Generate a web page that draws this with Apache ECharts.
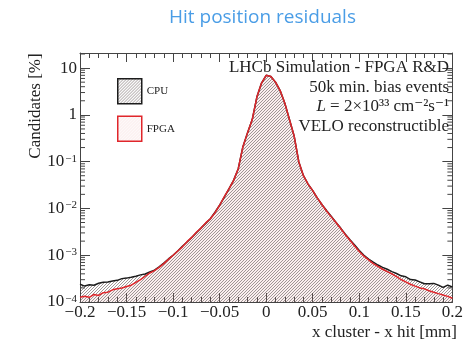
<!DOCTYPE html>
<html>
<head>
<meta charset="utf-8">
<script src="https://cdn.jsdelivr.net/npm/echarts@6/dist/echarts.min.js"></script>
<style>
  html, body { margin: 0; padding: 0; background: #fff; }
  #chart { width: 466px; height: 341px; }
</style>
</head>
<body>
<div id="chart"></div>
<script>
// histogram: bins of 0.005 mm from -0.2 to 0.2, values in %
const xMin = -0.2;
const xMax = 0.2;
const binWidth = 0.005;

const cpu = [
  2.40e-4, 2.19e-4, 2.34e-4, 2.28e-4, 2.51e-4, 2.63e-4, 2.69e-4, 2.82e-4, 2.90e-4, 3.16e-4,
  3.24e-4, 3.39e-4, 3.55e-4, 3.80e-4, 3.98e-4, 4.37e-4, 4.79e-4, 5.62e-4, 6.76e-4, 8.32e-4,
  1.00e-3, 1.23e-3, 1.55e-3, 1.91e-3, 2.40e-3, 3.02e-3, 3.80e-3, 4.79e-3, 6.03e-3, 8.30e-3,
  0.0117, 0.0174, 0.0263, 0.0398, 0.0708, 0.209, 0.417, 0.794, 2.40, 4.79,
  7.00, 6.61, 5.01, 3.31, 1.78, 0.794, 0.355, 0.100, 0.0501, 0.0331,
  0.0240, 0.0166, 0.0120, 8.9e-3, 6.76e-3, 5.01e-3, 3.80e-3, 2.82e-3, 2.14e-3, 1.66e-3,
  1.26e-3, 1.00e-3, 8.30e-4, 7.08e-4, 6.17e-4, 5.50e-4, 5.01e-4, 4.47e-4, 4.07e-4, 3.63e-4,
  3.45e-4, 3.02e-4, 2.95e-4, 2.69e-4, 2.45e-4, 2.45e-4, 2.50e-4, 2.29e-4, 2.05e-4, 2.30e-4,
  2.09e-4
];

const fpga = [
  1.26e-4, 1.32e-4, 1.26e-4, 1.45e-4, 1.38e-4, 1.58e-4, 1.62e-4, 1.82e-4, 1.91e-4, 2.00e-4,
  2.14e-4, 2.29e-4, 2.63e-4, 3.02e-4, 3.55e-4, 4.17e-4, 4.68e-4, 5.50e-4, 6.61e-4, 8.13e-4,
  1.00e-3, 1.23e-3, 1.51e-3, 1.95e-3, 2.40e-3, 3.09e-3, 3.80e-3, 4.90e-3, 6.03e-3, 8.10e-3,
  0.0117, 0.0178, 0.0263, 0.0398, 0.0708, 0.209, 0.417, 0.794, 2.40, 4.79,
  7.00, 6.61, 5.01, 3.31, 1.78, 0.794, 0.355, 0.100, 0.0501, 0.0331,
  0.0240, 0.0166, 0.0120, 8.7e-3, 6.60e-3, 5.01e-3, 3.72e-3, 2.75e-3, 2.09e-3, 1.58e-3,
  1.20e-3, 9.55e-4, 7.94e-4, 6.61e-4, 5.75e-4, 5.01e-4, 4.47e-4, 3.98e-4, 3.47e-4, 3.02e-4,
  2.69e-4, 2.40e-4, 2.19e-4, 2.00e-4, 1.91e-4, 1.74e-4, 1.62e-4, 1.51e-4, 1.41e-4, 1.32e-4,
  1.20e-4
];

const seriesNames = ['CPU', 'FPGA'];
const infoLines = ['LHCb Simulation - FPGA R&D', '50k min. bias events', '{i|L} = 2×10³³ cm⁻²s⁻¹', 'VELO reconstructible'];

const serif = '"Liberation Serif", "DejaVu Serif", serif';
const black = '#1c1c1c';
const red = '#e0262b';
const axisColor = '#444';

function hatch(color, offset) {
  const c = document.createElement('canvas');
  c.width = c.height = 3;
  const g = c.getContext('2d');
  g.strokeStyle = color;
  g.lineWidth = 1;
  for (let a = offset - 3; a <= offset + 3; a += 3) {
    g.beginPath();
    g.moveTo(a, 3);
    g.lineTo(a + 3, 0);
    g.stroke();
  }
  return c;
}
const cpuFill = {image: hatch('rgba(95,80,80,0.6)', 0), repeat: 'repeat'};
const fpgaFill = {image: hatch('rgba(230,150,150,0.3)', 1.5), repeat: 'repeat'};

const toPoints = arr => arr.map((v, i) => [xMin + i * binWidth, v]);

// ROOT style log minor ticks at 2..9 per decade
const logMinor = [];
for (let e = -4; e <= 1; e++) {
  for (let m = 2; m <= 9; m++) {
    const v = m * Math.pow(10, e);
    if (v < 21) logMinor.push([xMin, v]);
  }
}

const tick = {inside: true, length: 9, lineStyle: {color: axisColor}};
const minor = {show: true, splitNumber: 5, length: 5, lineStyle: {color: axisColor}};

const chart = echarts.init(document.getElementById('chart'));
chart.setOption({
  animation: false,
  title: {
    text: 'Hit position residuals',
    left: 164, top: 3,
    textStyle: {fontFamily: '"Open Sans", sans-serif', fontSize: 19, fontWeight: 'normal', color: '#4a9de6'}
  },
  grid: {left: 80, right: 13, top: 53, bottom: 39},
  legend: {
    orient: 'vertical', left: 112, top: 73,
    itemWidth: 24, itemHeight: 25, itemGap: 11, icon: 'rect',
    textStyle: {fontFamily: serif, fontSize: 11, color: '#222'},
    data: [
      {name: seriesNames[0], itemStyle: {color: cpuFill, borderColor: black, borderWidth: 1.5}},
      {name: seriesNames[1], itemStyle: {color: fpgaFill, borderColor: red, borderWidth: 1.5}}
    ]
  },
  xAxis: [{
    type: 'value', min: xMin, max: xMax, interval: 0.05,
    axisLine: {onZero: false, lineStyle: {color: axisColor}},
    axisTick: tick, minorTick: minor,
    splitLine: {show: false},
    axisLabel: {
      fontFamily: serif, fontSize: 17, color: '#222', margin: 2,
      formatter: v => {
        const s = String(+Math.abs(v).toFixed(2));
        return v < 0 ? '\u2212' + s : s;
      }
    }
  }, {
    type: 'value', min: xMin, max: xMax, interval: 0.05, position: 'top',
    axisLine: {onZero: false, lineStyle: {color: axisColor}},
    axisTick: tick, minorTick: minor,
    splitLine: {show: false},
    axisLabel: {show: false}
  }],
  yAxis: [{
    type: 'log', logBase: 10, min: 1e-4, max: 21, position: 'left',
    axisLine: {show: true, onZero: false, lineStyle: {color: axisColor}},
    axisTick: {show: true, inside: true, length: 10, lineStyle: {color: axisColor}},
    splitLine: {show: false},
    axisLabel: {
      margin: 3, color: '#222', fontFamily: serif,
      formatter: v => {
        const e = Math.log10(v);
        const r = Math.round(e);
        if (Math.abs(e - r) > 1e-6) return '';
        if (r === 1) return '{b|10}';
        if (r === 0) return '{b|1}';
        return '{b|10}{s|\u2212' + (-r) + '}';
      },
      rich: {
        b: {fontFamily: serif, fontSize: 17, color: '#222', lineHeight: 17, verticalAlign: 'bottom'},
        s: {fontFamily: serif, fontSize: 11, color: '#222', lineHeight: 12, verticalAlign: 'top', padding: [0, 0, 8, 1]}
      }
    }
  }, {
    type: 'log', logBase: 10, min: 1e-4, max: 21, position: 'right',
    axisLine: {show: true, onZero: false, lineStyle: {color: axisColor}},
    axisTick: {show: true, inside: true, length: 10, lineStyle: {color: axisColor}},
    splitLine: {show: false},
    axisLabel: {show: false}
  }],
  series: [{
    name: seriesNames[0], type: 'line', data: toPoints(cpu),
    symbol: 'none',
    lineStyle: {color: black, width: 1.5},
    itemStyle: {color: black},
    areaStyle: {origin: 'start', color: cpuFill, opacity: 1}
  }, {
    name: seriesNames[1], type: 'line', data: toPoints(fpga),
    symbol: 'none',
    lineStyle: {color: red, width: 1.5},
    itemStyle: {color: red},
    areaStyle: {origin: 'start', color: fpgaFill, opacity: 1}
  }, {
    type: 'custom', coordinateSystem: 'cartesian2d', silent: true, clip: false, z: 5,
    data: logMinor,
    renderItem(params, api) {
      const y = api.coord([xMin, api.value(1)])[1];
      const cs = params.coordSys;
      const st = {stroke: axisColor, lineWidth: 1};
      return {type: 'group', children: [
        {type: 'line', shape: {x1: cs.x, y1: y, x2: cs.x + 5, y2: y}, style: st},
        {type: 'line', shape: {x1: cs.x + cs.width - 5, y1: y, x2: cs.x + cs.width, y2: y}, style: st}
      ]};
    }
  }],
  graphic: [
    ...infoLines.map((t, i) => ({
      type: 'text', x: 449, y: 68 + i * 19.5, z: 10,
      style: {
        text: t, align: 'right', verticalAlign: 'middle',
        fontFamily: serif, fontSize: 17, fill: '#222',
        rich: {i: {fontFamily: serif, fontSize: 17, fontStyle: 'italic', fill: '#222'}}
      }
    })),
    {
      type: 'text', x: 457, y: 333,
      style: {text: 'x cluster - x hit [mm]', align: 'right', verticalAlign: 'middle', fontFamily: serif, fontSize: 17, fill: '#222'}
    },
    {
      type: 'text', x: 36, y: 106, rotation: Math.PI / 2,
      style: {text: 'Candidates [%]', align: 'center', verticalAlign: 'middle', fontFamily: serif, fontSize: 17, fill: '#222'}
    }
  ]
});
</script>
</body>
</html>
